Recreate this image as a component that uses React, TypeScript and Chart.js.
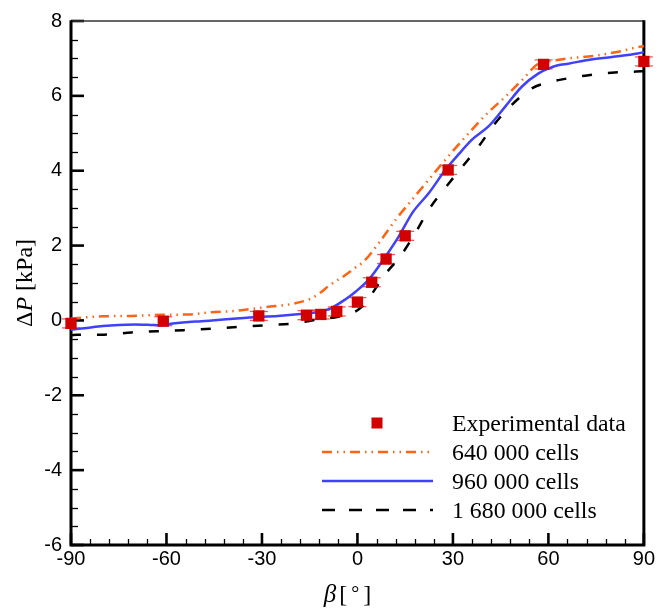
import React, { useEffect, useRef } from "react";
import { Chart, registerables } from "chart.js";

Chart.register(...registerables);

// ---------- data ----------
const expBeta = [-90, -61, -31, -16, -11.5, -6.5, 0, 4.5, 9, 15, 28.5, 58.5, 90];
const expDeltaP = [-0.08, -0.02, 0.12, 0.14, 0.16, 0.24, 0.49, 1.02, 1.64, 2.26, 4.02, 6.84, 6.92];
const expError = [0.12, 0.12, 0.12, 0.12, 0.12, 0.12, 0.12, 0.12, 0.12, 0.12, 0.12, 0.12, 0.12];

const beta640 = [-90, -80, -71, -62, -53, -46, -39, -28.5, -20, -15, -12, -8.75, -4, 0, 1.7, 6.9, 12.1, 17.3, 22.5, 28, 36, 41, 46.5, 51.7, 57, 60, 66, 72.5, 82, 88, 90];
const dp640 = [0.05, 0.11, 0.12, 0.15, 0.16, 0.22, 0.25, 0.36, 0.45, 0.57, 0.72, 0.94, 1.2, 1.45, 1.55, 2.09, 2.7, 3.24, 3.77, 4.33, 5.1, 5.55, 5.98, 6.42, 6.87, 6.92, 7.0, 7.05, 7.18, 7.3, 7.33];

const beta960 = [-90, -85, -80, -75, -70, -65, -62, -58, -53, -49, -40, -34, -25, -18, -13, -8.75, -3.5, -0.4, 3.75, 9, 13.1, 17.3, 22.5, 27.7, 31.9, 36, 41.25, 46.5, 51.7, 56.9, 60, 63, 66.25, 72.5, 80, 88, 90];
const dp960 = [-0.25, -0.2, -0.15, -0.12, -0.11, -0.12, -0.13, -0.08, -0.04, -0.02, 0.04, 0.08, 0.12, 0.17, 0.22, 0.31, 0.58, 0.78, 1.11, 1.73, 2.26, 2.88, 3.41, 4.03, 4.45, 4.83, 5.19, 5.72, 6.25, 6.6, 6.73, 6.82, 6.86, 6.96, 7.04, 7.13, 7.17];

const beta1680 = [-90, -88, -79.6, -71, -63, -54.6, -46, -37, -28.5, -20.2, -11.9, -6, -3.5, 0, 2.7, 8.4, 13.6, 18.3, 22.5, 27.2, 32.9, 38.1, 43.3, 48.5, 54.8, 60, 63.1, 71.5, 79.8, 87.6, 90];
const dp1680 = [-0.4, -0.38, -0.38, -0.32, -0.29, -0.26, -0.22, -0.17, -0.13, -0.08, 0.03, 0.1, 0.16, 0.27, 0.49, 1.2, 1.73, 2.35, 2.97, 3.5, 4.1, 4.65, 5.27, 5.76, 6.2, 6.36, 6.42, 6.54, 6.62, 6.65, 6.66];

const xTicks = [-90, -60, -30, 0, 30, 60, 90];
const yTicks = [-6, -4, -2, 0, 2, 4, 6, 8];
const xMinorStep = 6;
const yMinorStep = 0.5;

const legendLabels = ["Experimental data", "640 000 cells", "960 000 cells", "1 680 000 cells"];

// ---------- styles ----------
const SERIF = '"Liberation Serif", "Times New Roman", serif';
const SANS = '"Liberation Sans", Arial, sans-serif';
const RED = "#d20000";
const ORANGE = "#ff6414";
const BLUE = "#4040ff";
const BLACK = "#000000";
const ORANGE_DASH = [10, 5, 1.5, 5, 1.5, 5];
const BLACK_DASH = [10, 16];

type Part = { text: string; font: string; dx?: number; dy?: number };

function drawRich(ctx: CanvasRenderingContext2D, parts: Part[], cx: number, baseline: number) {
  let total = 0;
  for (const p of parts) {
    ctx.font = p.font;
    total += (p.dx || 0) + ctx.measureText(p.text).width;
  }
  let x = cx - total / 2;
  ctx.textAlign = "left";
  ctx.textBaseline = "alphabetic";
  for (const p of parts) {
    ctx.font = p.font;
    x += p.dx || 0;
    ctx.fillText(p.text, x, baseline + (p.dy || 0));
    x += ctx.measureText(p.text).width;
  }
}

const framePlugin = {
  id: "frameTicks",
  beforeDatasetsDraw(chart: any) {
    const { ctx, chartArea: a, scales } = chart;
    const xs = scales.x;
    const ys = scales.y;
    ctx.save();
    ctx.strokeStyle = "#000";
    ctx.lineCap = "butt";
    // minor ticks
    ctx.lineWidth = 1.3;
    for (let v = ys.min; v <= ys.max + 1e-6; v += yMinorStep) {
      if (yTicks.some((t) => Math.abs(t - v) < 1e-6)) continue;
      const py = Math.round(ys.getPixelForValue(v)) + 0.5;
      ctx.beginPath();
      ctx.moveTo(a.left, py);
      ctx.lineTo(a.left + 7, py);
      ctx.stroke();
    }
    for (let v = xs.min; v <= xs.max + 1e-6; v += xMinorStep) {
      if (xTicks.some((t) => Math.abs(t - v) < 1e-6)) continue;
      const px = Math.round(xs.getPixelForValue(v)) + 0.5;
      ctx.beginPath();
      ctx.moveTo(px, a.bottom);
      ctx.lineTo(px, a.bottom - 6);
      ctx.stroke();
    }
    // major ticks
    ctx.lineWidth = 2.6;
    for (const v of yTicks) {
      const py = ys.getPixelForValue(v);
      ctx.beginPath();
      ctx.moveTo(a.left, py);
      ctx.lineTo(a.left + 13, py);
      ctx.stroke();
    }
    for (const v of xTicks) {
      const px = xs.getPixelForValue(v);
      ctx.beginPath();
      ctx.moveTo(px, a.bottom);
      ctx.lineTo(px, a.bottom - 12);
      ctx.stroke();
    }
    // frame
    ctx.lineWidth = 1.5;
    ctx.strokeStyle = "#333";
    ctx.beginPath();
    ctx.moveTo(a.left, a.top);
    ctx.lineTo(a.right, a.top);
    ctx.stroke();
    ctx.strokeStyle = "#000";
    ctx.lineWidth = 3;
    ctx.beginPath();
    ctx.moveTo(a.right, a.top - 0.75);
    ctx.lineTo(a.right, a.bottom);
    ctx.lineTo(a.left, a.bottom);
    ctx.lineTo(a.left, a.top - 0.75);
    ctx.stroke();

    // error-bar caps of experimental data
    ctx.strokeStyle = "rgba(220,40,40,0.75)";
    ctx.lineWidth = 1.3;
    expBeta.forEach((b, i) => {
      const px = xs.getPixelForValue(b);
      for (const s of [-1, 1]) {
        const py = ys.getPixelForValue(expDeltaP[i] + s * expError[i]);
        ctx.beginPath();
        ctx.moveTo(px - 9, py);
        ctx.lineTo(px + 9, py);
        ctx.stroke();
      }
    });
    ctx.restore();
  },
  afterDraw(chart: any) {
    const { ctx, chartArea: a } = chart;
    ctx.save();
    ctx.fillStyle = "#000";
    // y title
    ctx.save();
    ctx.translate(32, (a.top + a.bottom) / 2);
    ctx.rotate(-Math.PI / 2);
    drawRich(
      ctx,
      [
        { text: "Δ", font: `24px ${SERIF}` },
        { text: "P", font: `italic 24px ${SERIF}` },
        { text: " [kPa]", font: `24px ${SERIF}` },
      ],
      0,
      0
    );
    ctx.restore();
    // x title
    drawRich(
      ctx,
      [
        { text: "β", font: `italic 25px ${SERIF}` },
        { text: "[", font: `24px ${SERIF}`, dx: 3 },
        { text: "°", font: `20px ${SERIF}`, dx: 4, dy: -2 },
        { text: "]", font: `24px ${SERIF}`, dx: 4 },
      ],
      (a.left + a.right) / 2 - 10,
      602
    );

    // legend
    const rows = [423, 452, 481, 510];
    const lx0 = 322;
    const lx1 = 433;
    const tx = 452;
    ctx.fillStyle = RED;
    ctx.fillRect(377 - 5.5, rows[0] - 5.5, 11, 11);
    const lines = [
      { color: ORANGE, dash: ORANGE_DASH, w: 2.5 },
      { color: BLUE, dash: [] as number[], w: 2.5 },
      { color: BLACK, dash: [13, 14], w: 2.5 },
    ];
    lines.forEach((l, i) => {
      ctx.strokeStyle = l.color;
      ctx.lineWidth = l.w;
      ctx.setLineDash(l.dash);
      ctx.beginPath();
      ctx.moveTo(lx0, rows[i + 1]);
      ctx.lineTo(lx1, rows[i + 1]);
      ctx.stroke();
    });
    ctx.setLineDash([]);
    ctx.fillStyle = "#000";
    ctx.font = `23.8px ${SERIF}`;
    ctx.textAlign = "left";
    ctx.textBaseline = "alphabetic";
    chart.data.datasets.forEach((d: any, i: number) => {
      ctx.fillText(d.label, tx, rows[i] + 8);
    });
    ctx.restore();
  },
};

export default function App() {
  const ref = useRef<HTMLCanvasElement>(null);
  useEffect(() => {
    const canvas = ref.current!;
    const chart = new Chart(canvas, {
      type: "line",
      data: {
        datasets: [
          {
            label: legendLabels[0],
            data: expBeta.map((x, i) => ({ x, y: expDeltaP[i] })),
            showLine: false,
            pointStyle: "rect",
            pointRadius: 8,
            pointBackgroundColor: RED,
            pointBorderWidth: 0,
            backgroundColor: RED,
            borderColor: RED,
            clip: false as any,
            order: 0,
          },
          {
            label: legendLabels[1],
            data: beta640.map((x, i) => ({ x, y: dp640[i] })),
            borderColor: ORANGE,
            borderWidth: 2.5,
            borderDash: ORANGE_DASH,
            pointRadius: 0,
            cubicInterpolationMode: "monotone",
            fill: false,
            order: 3,
          },
          {
            label: legendLabels[2],
            data: beta960.map((x, i) => ({ x, y: dp960[i] })),
            borderColor: BLUE,
            borderWidth: 2.5,
            pointRadius: 0,
            cubicInterpolationMode: "monotone",
            fill: false,
            order: 1,
          },
          {
            label: legendLabels[3],
            data: beta1680.map((x, i) => ({ x, y: dp1680[i] })),
            borderColor: BLACK,
            borderWidth: 2.5,
            borderDash: BLACK_DASH,
            pointRadius: 0,
            cubicInterpolationMode: "monotone",
            fill: false,
            order: 2,
          },
        ],
      },
      options: {
        animation: false,
        responsive: false,
        devicePixelRatio: 1,
        layout: { padding: { top: 19, right: 13, left: 0, bottom: 0 } },
        plugins: { legend: { display: false }, tooltip: { enabled: false } },
        scales: {
          x: {
            type: "linear",
            min: -90,
            max: 90,
            afterFit: (s: any) => {
              s.height = 69;
            },
            afterBuildTicks: (s: any) => {
              s.ticks = xTicks.map((v) => ({ value: v }));
            },
            grid: { display: false, drawTicks: false },
            border: { display: false },
            ticks: {
              color: "#000",
              font: { family: SANS, size: 20 },
              padding: 2,
              maxRotation: 0,
              autoSkip: false,
              callback: (v: any) => String(v),
            },
          },
          y: {
            type: "linear",
            min: -6,
            max: 8,
            afterFit: (s: any) => {
              s.width = 71;
            },
            afterBuildTicks: (s: any) => {
              s.ticks = yTicks.map((v) => ({ value: v }));
            },
            grid: { display: false, drawTicks: false },
            border: { display: false },
            ticks: {
              color: "#000",
              font: { family: SANS, size: 20 },
              padding: 9,
              autoSkip: false,
              callback: (v: any) => String(v),
            },
          },
        },
      },
      plugins: [framePlugin],
    } as any);
    return () => chart.destroy();
  }, []);

  return (
    <div style={{ position: "absolute", left: 0, top: 0, width: 657, height: 614, background: "#fff" }}>
      <canvas ref={ref} width={657} height={614} style={{ display: "block" }} />
    </div>
  );
}
